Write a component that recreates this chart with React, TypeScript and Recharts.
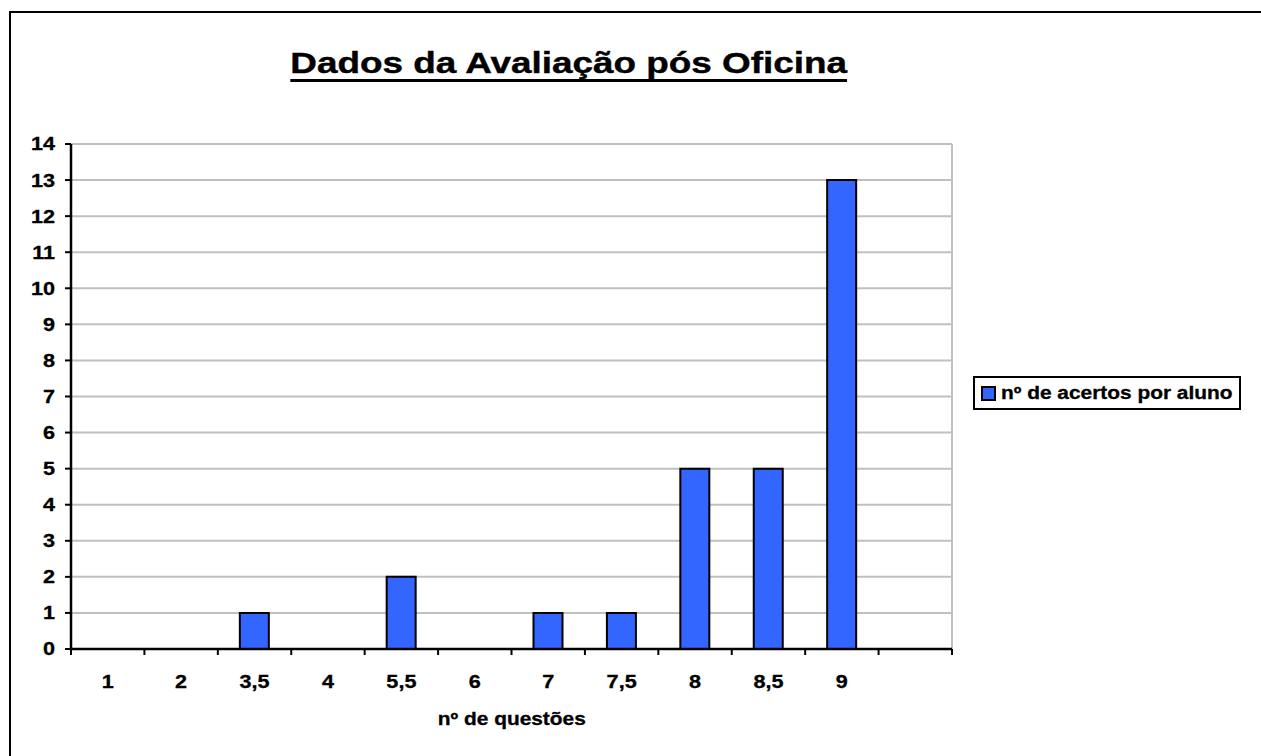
import { BarChart, Bar, XAxis, YAxis, CartesianGrid, Legend } from "recharts";

// ── Data ──────────────────────────────────────────────────────────────────────

const categorias = ["1", "2", "3,5", "4", "5,5", "6", "7", "7,5", "8", "8,5", "9", ""];
const acertos: (number | null)[] = [0, 0, 1, 0, 2, 0, 1, 1, 5, 5, 13, null];
const yTicks = [0, 1, 2, 3, 4, 5, 6, 7, 8, 9, 10, 11, 12, 13, 14];

const titulo = "Dados da Avaliação pós Oficina";
const serieNome = "nº de acertos por aluno";
const eixoXNome = "nº de questões";

// ── Layout ────────────────────────────────────────────────────────────────────

const W = 1261;
const H = 756;
const MARGIN = { top: 144, right: 309, bottom: 47, left: 11 };
const Y_AXIS_W = 60;
const X_AXIS_H = 60;
const PLOT_W = W - MARGIN.left - MARGIN.right - Y_AXIS_W;
const FONT = '"Liberation Sans", Arial, Helvetica, sans-serif';
const SX = 1.2; // Excel text here is stretched horizontally
const AZUL = "#3366FF";

const data = categorias.map((c, i) => ({ cat: c, acertos: acertos[i] }));

// ── Ticks ─────────────────────────────────────────────────────────────────────

function XTick({ x, y, payload, index }: any) {
  const half = PLOT_W / categorias.length / 2;
  return (
    <g>
      <line x1={x - half} y1={y} x2={x - half} y2={y + 6} stroke="#000" strokeWidth={2} />
      {index === categorias.length - 1 && (
        <line x1={x + half} y1={y} x2={x + half} y2={y + 6} stroke="#000" strokeWidth={2} />
      )}
      <text
        transform={`translate(${x},${y + 39}) scale(${SX},1)`}
        textAnchor="middle"
        fontFamily={FONT}
        fontWeight="bold"
        fontSize={18}
        fill="#000"
        stroke="#000"
        strokeWidth={0.3}
      >
        {payload.value}
      </text>
    </g>
  );
}

function YTick({ x, y, payload }: any) {
  return (
    <text
      transform={`translate(${x},${y}) scale(${SX},1)`}
      textAnchor="end"
      dy="0.36em"
      fontFamily={FONT}
      fontWeight="bold"
      fontSize={18}
      fill="#000"
      stroke="#000"
      strokeWidth={0.3}
    >
      {payload.value}
    </text>
  );
}

function LegendBox() {
  return (
    <div
      style={{
        boxSizing: "border-box",
        width: 268,
        height: 34,
        border: "2px solid #000",
        background: "#fff",
        display: "flex",
        alignItems: "center",
        paddingLeft: 6,
        fontFamily: FONT,
      }}
    >
      <span
        style={{
          boxSizing: "border-box",
          width: 15,
          height: 15,
          background: AZUL,
          border: "2px solid #000",
          flex: "none",
        }}
      />
      <span
        style={{
          marginLeft: 5,
          fontSize: 18,
          fontWeight: "bold",
          whiteSpace: "nowrap",
          WebkitTextStroke: "0.3px #000",
          transform: "scaleX(1.16)",
          transformOrigin: "left center",
        }}
      >
        {serieNome}
      </span>
    </div>
  );
}

// ── Component ─────────────────────────────────────────────────────────────────

export default function App() {
  const plotCenter = MARGIN.left + Y_AXIS_W + PLOT_W / 2;
  return (
    <div
      style={{
        position: "fixed",
        left: 0,
        top: 0,
        width: W,
        height: H,
        overflow: "hidden",
        background: "#fff",
        fontFamily: FONT,
      }}
    >
      <div
        style={{
          position: "absolute",
          left: 9,
          top: 11,
          width: W + 40,
          height: H + 40,
          border: "2px solid #000",
        }}
      />
      <div style={{ position: "absolute", left: 0, top: 0 }}>
        <BarChart width={W} height={H} data={data} margin={MARGIN}>
          <CartesianGrid
            stroke="#c0c0c0"
            strokeWidth={2}
            vertical={true}
            verticalCoordinatesGenerator={({ offset }: any) => [offset.left + offset.width]}
          />
          <XAxis
            dataKey="cat"
            height={X_AXIS_H}
            interval={0}
            tickSize={0}
            tickMargin={0}
            tickLine={false}
            axisLine={{ stroke: "#000", strokeWidth: 2.5 }}
            tick={<XTick />}
          />
          <YAxis
            width={Y_AXIS_W}
            domain={[0, 14]}
            ticks={yTicks}
            interval={0}
            tickSize={6}
            tickMargin={10}
            tickLine={{ stroke: "#000", strokeWidth: 2 }}
            axisLine={{ stroke: "#000", strokeWidth: 2.5 }}
            tick={<YTick />}
          />
          <Legend
            layout="horizontal"
            align="center"
            verticalAlign="middle"
            content={() => <LegendBox />}
            wrapperStyle={{ left: 973, top: 376, width: 268, height: 34 }}
          />
          <Bar
            dataKey="acertos"
            name={serieNome}
            fill={AZUL}
            stroke="#000"
            strokeWidth={2}
            barSize={29}
            isAnimationActive={false}
          />
        </BarChart>
      </div>
      <div
        style={{
          position: "absolute",
          left: 0,
          top: 47.5,
          width: 1138,
          textAlign: "center",
          lineHeight: 1,
        }}
      >
        <span
          style={{
            display: "inline-block",
            fontSize: 29.5,
            fontWeight: "bold",
            whiteSpace: "nowrap",
            WebkitTextStroke: "0.4px #000",
            textDecoration: "underline",
            textDecorationThickness: 3,
            textDecorationSkipInk: "none",
            textUnderlineOffset: 6,
            transform: "scaleX(1.25)",
          }}
        >
          {titulo}
        </span>
      </div>
      <div
        style={{
          position: "absolute",
          left: plotCenter - 200,
          top: 710,
          width: 400,
          textAlign: "center",
          lineHeight: 1,
        }}
      >
        <span
          style={{
            display: "inline-block",
            fontSize: 18,
            fontWeight: "bold",
            whiteSpace: "nowrap",
            WebkitTextStroke: "0.3px #000",
            transform: "scaleX(1.16)",
          }}
        >
          {eixoXNome}
        </span>
      </div>
    </div>
  );
}
